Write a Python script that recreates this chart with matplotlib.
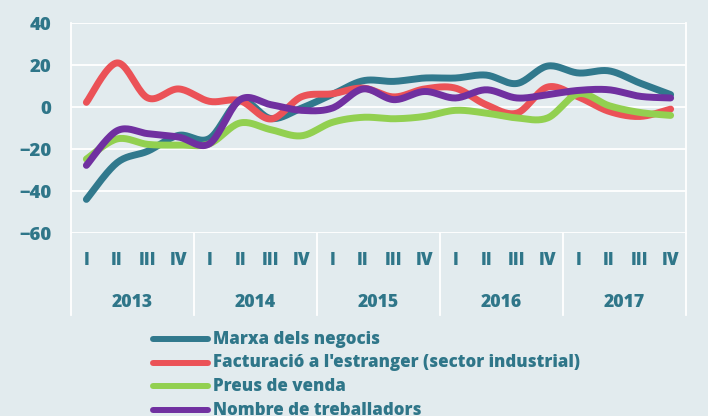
import numpy as np
import matplotlib.pyplot as plt
from matplotlib.lines import Line2D

# quarterly balance values, 2013 I .. 2017 IV
years = ['2013', '2014', '2015', '2016', '2017']
quarters = ['I', 'II', 'III', 'IV']

marxa = [-44, -26.5, -21, -13.5, -15, 3, -5.5, -0.5, 6, 12.5,
         12.2, 13.8, 13.8, 15.2, 11.2, 19.5, 16.2, 17.2, 11.4, 5.9]
facturacio = [2.2, 21, 4.3, 8.6, 2.7, 3, -5.7, 4.9, 6.3, 9,
              4.8, 8.6, 9, 1.1, -2.9, 9.5, 4.8, -2.1, -4.5, -1]
preus = [-24.8, -15.2, -17.8, -18.1, -17.5, -7.6, -10.8, -13.7, -7.3, -4.9,
         -5.6, -4.5, -1.6, -2.9, -5.2, -5.2, 6.3, 0.6, -2.6, -4]
treballadors = [-27.8, -11.3, -12.7, -14.3, -17.5, 3.5, 1.1, -1.6, -0.5, 8.6,
                3.5, 7.4, 4.3, 8.2, 4.3, 5.9, 7.9, 8.2, 5.1, 4.3]

labels = ["Marxa dels negocis", "Facturació a l'estranger (sector industrial)",
          "Preus de venda", "Nombre de treballadors"]
colors = ['#31798D', '#EB5257', '#92D050', '#7030A0']

BG = '#E2EBEE'
TXT = '#2F7689'
FS = 12.2
WT = 'extra bold'
plt.rcParams['font.family'] = ['Open Sans', 'DejaVu Sans']
plt.rcParams['font.weight'] = WT


def smooth(x, y, n=20):
    # catmull-rom style smoothing, like excel's smoothed line
    x = np.asarray(x, float)
    y = np.asarray(y, float)
    px = np.concatenate([[x[0]], x, [x[-1]]])
    py = np.concatenate([[y[0]], y, [y[-1]]])
    xs, ys = [], []
    t = np.linspace(0, 1, n, endpoint=False)
    for i in range(1, len(px) - 2):
        p0 = np.array([px[i], py[i]])
        p3 = np.array([px[i + 1], py[i + 1]])
        p1 = p0 + (p3 - np.array([px[i - 1], py[i - 1]])) / 6
        p2 = p3 - (np.array([px[i + 2], py[i + 2]]) - p0) / 6
        b = ((1 - t) ** 3)[:, None] * p0 + (3 * (1 - t) ** 2 * t)[:, None] * p1 \
            + (3 * (1 - t) * t ** 2)[:, None] * p2 + (t ** 3)[:, None] * p3
        xs.extend(b[:, 0])
        ys.extend(b[:, 1])
    xs.append(x[-1])
    ys.append(y[-1])
    return xs, ys


fig = plt.figure(figsize=(7.08, 4.16), dpi=100, facecolor=BG)
W, H = 708, 416
ax = fig.add_axes([71 / W, 1 - 233 / H, (686 - 71) / W, (233 - 23) / H])
ax.set_facecolor(BG)

n = len(years) * len(quarters)
x = np.arange(n) + 0.5
for series, c in zip([marxa, facturacio, preus, treballadors], colors):
    sx, sy = smooth(x, series)
    ax.plot(sx, sy, color=c, lw=5, solid_capstyle='round', solid_joinstyle='round')

ax.set_xlim(0, n)
ax.set_ylim(-60, 40)
ax.set_yticks(range(-60, 41, 20))
ax.grid(axis='y', color='white', lw=1.3)
ax.set_axisbelow(True)
ax.set_xticks([])
for s in ['top', 'bottom']:
    ax.spines[s].set_visible(False)
for s in ['left', 'right']:
    ax.spines[s].set_color('white')
    ax.spines[s].set_linewidth(1.3)
ax.tick_params(axis='y', length=0, pad=14, labelsize=13.3, labelcolor=TXT)

# category axis: quarters and years
for i in range(n):
    ax.text(x[i], -0.129, quarters[i % 4], transform=ax.get_xaxis_transform(),
            ha='center', va='center', color=TXT, fontsize=FS, fontweight=WT)
for k, yr in enumerate(years):
    ax.text(4 * k + 2, -0.333, yr, transform=ax.get_xaxis_transform(),
            ha='center', va='center', color=TXT, fontsize=12.7, fontweight=WT)
for k in range(len(years) + 1):
    ax.plot([4 * k, 4 * k], [0, -0.39], transform=ax.get_xaxis_transform(),
            color='white', lw=1.3, clip_on=False)

# legend
for j, (lab, c) in enumerate(zip(labels, colors)):
    yy = 1 - (339 + 23.7 * j) / H
    fig.add_artist(Line2D([153 / W, 208 / W], [yy, yy], color=c, lw=4.3,
                          solid_capstyle='round'))
    fig.text(213 / W, yy, lab, ha='left', va='center', color=TXT,
             fontsize=FS, fontweight=WT)

fig.savefig('out.png', dpi=100, facecolor=BG)
